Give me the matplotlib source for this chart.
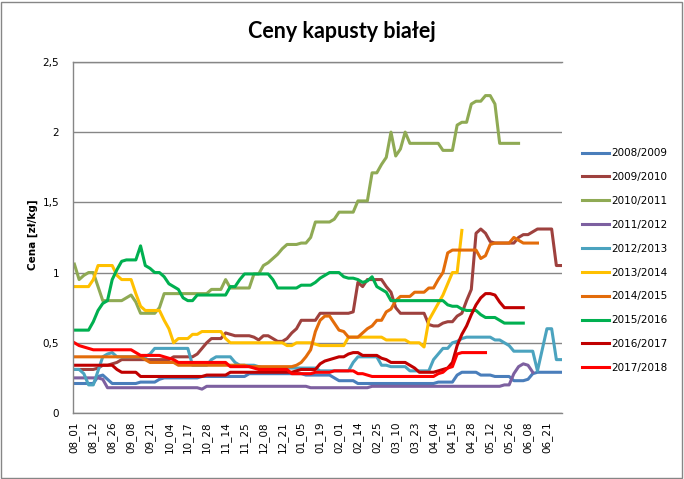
import numpy as np
import matplotlib.pyplot as plt
from matplotlib.patches import Rectangle

# etykiety osi X (co 4 punkty)
etykiety = ['08_01', '08_12', '08_26', '09_08', '09_21', '10_04', '10_17', '10_28',
            '11_14', '11_25', '12_08', '12_21', '01_05', '01_19', '02_01', '02_14',
            '02_25', '03_10', '03_23', '04_04', '04_15', '04_28', '05_12', '05_26',
            '06_08', '06_21']
n_pkt = 104

sezony = ['2008/2009', '2009/2010', '2010/2011', '2011/2012', '2012/2013',
          '2013/2014', '2014/2015', '2015/2016', '2016/2017', '2017/2018']
kolory = ['#4A7EBB', '#9E413E', '#8FAA54', '#7D60A0', '#4BA3BF',
          '#FFC000', '#E36C0A', '#00B050', '#C00000', '#FF0000']

c_0809 = [0.21, 0.21, 0.21, 0.21, 0.21, 0.26, 0.27, 0.24, 0.21, 0.21,
          0.21, 0.21, 0.21, 0.21, 0.22, 0.22, 0.22, 0.22, 0.24, 0.25,
          0.25, 0.25, 0.25, 0.25, 0.25, 0.25, 0.25, 0.26, 0.26, 0.26,
          0.26, 0.26, 0.26, 0.26, 0.26, 0.26, 0.26, 0.28, 0.28, 0.28,
          0.28, 0.28, 0.28, 0.28, 0.28, 0.28, 0.28, 0.28, 0.28, 0.27,
          0.27, 0.27, 0.27, 0.27, 0.27, 0.25, 0.23, 0.23, 0.23, 0.23,
          0.21, 0.21, 0.21, 0.21, 0.21, 0.21, 0.21, 0.21, 0.21, 0.21,
          0.21, 0.21, 0.21, 0.21, 0.21, 0.21, 0.21, 0.22, 0.22, 0.22,
          0.22, 0.27, 0.29, 0.29, 0.29, 0.29, 0.27, 0.27, 0.27, 0.26,
          0.26, 0.26, 0.26, 0.23, 0.23, 0.23, 0.24, 0.28, 0.29, 0.29,
          0.29, 0.29, 0.29, 0.29]

c_0910 = [0.31, 0.31, 0.31, 0.31, 0.31, 0.32, 0.34, 0.34, 0.35, 0.36,
          0.38, 0.38, 0.38, 0.38, 0.38, 0.38, 0.38, 0.38, 0.38, 0.38,
          0.38, 0.40, 0.40, 0.40, 0.40, 0.40, 0.42, 0.46, 0.50, 0.53,
          0.53, 0.53, 0.57, 0.56, 0.55, 0.55, 0.55, 0.55, 0.54, 0.52,
          0.55, 0.55, 0.53, 0.51, 0.51, 0.53, 0.57, 0.60, 0.66, 0.66,
          0.66, 0.66, 0.71, 0.71, 0.71, 0.71, 0.71, 0.71, 0.71, 0.72,
          0.93, 0.90, 0.95, 0.95, 0.95, 0.95, 0.90, 0.86, 0.75, 0.71,
          0.71, 0.71, 0.71, 0.71, 0.71, 0.63, 0.62, 0.62, 0.64, 0.65,
          0.65, 0.69, 0.71, 0.80, 0.88, 1.28, 1.31, 1.28, 1.22, 1.21,
          1.21, 1.21, 1.21, 1.21, 1.25, 1.27, 1.27, 1.29, 1.31, 1.31,
          1.31, 1.31, 1.05, 1.05]

c_1011 = [1.06, 0.95, 0.98, 1.00, 1.00, 0.90, 0.80, 0.80, 0.80, 0.80,
          0.80, 0.82, 0.84, 0.79, 0.71, 0.71, 0.71, 0.71, 0.75, 0.85,
          0.85, 0.85, 0.85, 0.85, 0.85, 0.85, 0.85, 0.85, 0.85, 0.88,
          0.88, 0.88, 0.95, 0.89, 0.89, 0.89, 0.89, 0.89, 0.99, 0.99,
          1.05, 1.07, 1.10, 1.13, 1.17, 1.20, 1.20, 1.20, 1.21, 1.21,
          1.25, 1.36, 1.36, 1.36, 1.36, 1.38, 1.43, 1.43, 1.43, 1.43,
          1.51, 1.51, 1.51, 1.71, 1.71, 1.77, 1.82, 2.00, 1.83, 1.88,
          2.00, 1.92, 1.92, 1.92, 1.92, 1.92, 1.92, 1.92, 1.87, 1.87,
          1.87, 2.05, 2.07, 2.07, 2.20, 2.22, 2.22, 2.26, 2.26, 2.20,
          1.92, 1.92, 1.92, 1.92, 1.92]

c_1112 = [0.25, 0.25, 0.25, 0.25, 0.25, 0.25, 0.24, 0.18, 0.18, 0.18,
          0.18, 0.18, 0.18, 0.18, 0.18, 0.18, 0.18, 0.18, 0.18, 0.18,
          0.18, 0.18, 0.18, 0.18, 0.18, 0.18, 0.18, 0.17, 0.19, 0.19,
          0.19, 0.19, 0.19, 0.19, 0.19, 0.19, 0.19, 0.19, 0.19, 0.19,
          0.19, 0.19, 0.19, 0.19, 0.19, 0.19, 0.19, 0.19, 0.19, 0.19,
          0.18, 0.18, 0.18, 0.18, 0.18, 0.18, 0.18, 0.18, 0.18, 0.18,
          0.18, 0.18, 0.18, 0.19, 0.19, 0.19, 0.19, 0.19, 0.19, 0.19,
          0.19, 0.19, 0.19, 0.19, 0.19, 0.19, 0.19, 0.19, 0.19, 0.19,
          0.19, 0.19, 0.19, 0.19, 0.19, 0.19, 0.19, 0.19, 0.19, 0.19,
          0.19, 0.20, 0.20, 0.28, 0.33, 0.35, 0.34, 0.29]

c_1213 = [0.31, 0.31, 0.28, 0.20, 0.20, 0.30, 0.40, 0.42, 0.43, 0.40,
          0.40, 0.40, 0.40, 0.40, 0.40, 0.40, 0.42, 0.46, 0.46, 0.46,
          0.46, 0.46, 0.46, 0.46, 0.46, 0.34, 0.34, 0.34, 0.34, 0.38,
          0.40, 0.40, 0.40, 0.40, 0.36, 0.34, 0.34, 0.34, 0.34, 0.33,
          0.32, 0.32, 0.32, 0.32, 0.32, 0.32, 0.32, 0.32, 0.32, 0.32,
          0.32, 0.32, 0.30, 0.30, 0.30, 0.30, 0.30, 0.30, 0.30, 0.36,
          0.40, 0.40, 0.40, 0.40, 0.40, 0.34, 0.34, 0.33, 0.33, 0.33,
          0.33, 0.30, 0.30, 0.30, 0.30, 0.30, 0.38, 0.42, 0.46, 0.46,
          0.50, 0.51, 0.53, 0.54, 0.54, 0.54, 0.54, 0.54, 0.54, 0.52,
          0.52, 0.50, 0.48, 0.44, 0.44, 0.44, 0.44, 0.44, 0.30, 0.45,
          0.60, 0.60, 0.38, 0.38]

c_1314 = [0.90, 0.90, 0.90, 0.90, 0.95, 1.05, 1.05, 1.05, 1.05, 0.98,
          0.95, 0.95, 0.95, 0.85, 0.76, 0.73, 0.73, 0.73, 0.73, 0.66,
          0.60, 0.50, 0.53, 0.53, 0.53, 0.56, 0.56, 0.58, 0.58, 0.58,
          0.58, 0.58, 0.53, 0.50, 0.50, 0.50, 0.50, 0.50, 0.50, 0.50,
          0.50, 0.50, 0.50, 0.50, 0.50, 0.48, 0.48, 0.50, 0.50, 0.50,
          0.50, 0.49, 0.48, 0.48, 0.48, 0.48, 0.48, 0.48, 0.54, 0.54,
          0.54, 0.54, 0.54, 0.54, 0.54, 0.54, 0.52, 0.52, 0.52, 0.52,
          0.52, 0.50, 0.50, 0.50, 0.47, 0.66, 0.72, 0.78, 0.84, 0.92,
          1.00, 1.00, 1.30]

c_1415 = [0.40, 0.40, 0.40, 0.40, 0.40, 0.40, 0.40, 0.40, 0.40, 0.40,
          0.40, 0.40, 0.40, 0.40, 0.40, 0.38, 0.36, 0.36, 0.36, 0.36,
          0.36, 0.36, 0.34, 0.34, 0.34, 0.34, 0.34, 0.34, 0.34, 0.34,
          0.34, 0.34, 0.34, 0.34, 0.34, 0.34, 0.34, 0.33, 0.33, 0.33,
          0.33, 0.33, 0.33, 0.33, 0.33, 0.33, 0.33, 0.34, 0.36, 0.40,
          0.45, 0.58, 0.66, 0.69, 0.69, 0.64, 0.59, 0.58, 0.54, 0.54,
          0.54, 0.57, 0.60, 0.62, 0.66, 0.66, 0.72, 0.74, 0.80, 0.83,
          0.83, 0.83, 0.86, 0.86, 0.86, 0.89, 0.89, 0.95, 1.00, 1.14,
          1.16, 1.16, 1.16, 1.16, 1.16, 1.16, 1.10, 1.12, 1.20, 1.21,
          1.21, 1.21, 1.21, 1.25, 1.23, 1.21, 1.21, 1.21, 1.21]

c_1516 = [0.59, 0.59, 0.59, 0.59, 0.65, 0.73, 0.78, 0.80, 0.95, 1.02,
          1.08, 1.09, 1.09, 1.09, 1.19, 1.05, 1.03, 1.00, 1.00, 0.97,
          0.92, 0.90, 0.88, 0.82, 0.80, 0.80, 0.84, 0.84, 0.84, 0.84,
          0.84, 0.84, 0.84, 0.90, 0.90, 0.95, 0.99, 0.99, 0.99, 0.99,
          0.99, 0.99, 0.95, 0.89, 0.89, 0.89, 0.89, 0.89, 0.91, 0.91,
          0.91, 0.93, 0.96, 0.98, 1.00, 1.00, 1.00, 0.97, 0.96, 0.96,
          0.95, 0.93, 0.94, 0.97, 0.90, 0.88, 0.86, 0.80, 0.80, 0.80,
          0.80, 0.80, 0.80, 0.80, 0.80, 0.80, 0.80, 0.80, 0.80, 0.77,
          0.76, 0.76, 0.74, 0.73, 0.73, 0.73, 0.70, 0.68, 0.68, 0.68,
          0.66, 0.64, 0.64, 0.64, 0.64, 0.64]

c_1617 = [0.34, 0.34, 0.34, 0.34, 0.34, 0.34, 0.34, 0.34, 0.34, 0.31,
          0.29, 0.29, 0.29, 0.29, 0.26, 0.26, 0.26, 0.26, 0.26, 0.26,
          0.26, 0.26, 0.26, 0.26, 0.26, 0.26, 0.26, 0.26, 0.27, 0.27,
          0.27, 0.27, 0.27, 0.29, 0.29, 0.29, 0.29, 0.29, 0.29, 0.29,
          0.29, 0.29, 0.29, 0.29, 0.29, 0.29, 0.29, 0.30, 0.31, 0.31,
          0.31, 0.31, 0.35, 0.37, 0.38, 0.39, 0.40, 0.40, 0.42, 0.43,
          0.43, 0.41, 0.41, 0.41, 0.41, 0.39, 0.38, 0.36, 0.36, 0.36,
          0.36, 0.34, 0.32, 0.29, 0.29, 0.29, 0.29, 0.30, 0.31, 0.32,
          0.36, 0.48, 0.56, 0.62, 0.70, 0.77, 0.82, 0.85, 0.85, 0.84,
          0.79, 0.75, 0.75, 0.75, 0.75, 0.75]

c_1718 = [0.50, 0.48, 0.47, 0.46, 0.45, 0.45, 0.45, 0.45, 0.45, 0.45,
          0.45, 0.45, 0.45, 0.43, 0.41, 0.41, 0.41, 0.41, 0.41, 0.40,
          0.39, 0.38, 0.36, 0.36, 0.36, 0.36, 0.36, 0.36, 0.36, 0.36,
          0.36, 0.36, 0.36, 0.33, 0.33, 0.33, 0.33, 0.33, 0.32, 0.31,
          0.31, 0.31, 0.31, 0.31, 0.31, 0.31, 0.28, 0.28, 0.28, 0.28,
          0.28, 0.29, 0.29, 0.29, 0.29, 0.30, 0.30, 0.30, 0.30, 0.30,
          0.28, 0.28, 0.27, 0.26, 0.26, 0.26, 0.26, 0.26, 0.26, 0.26,
          0.26, 0.26, 0.26, 0.26, 0.26, 0.26, 0.26, 0.28, 0.29, 0.32,
          0.33, 0.42, 0.43, 0.43, 0.43, 0.43, 0.43, 0.43]

ceny = [c_0809, c_0910, c_1011, c_1112, c_1213,
        c_1314, c_1415, c_1516, c_1617, c_1718]

fig = plt.figure(figsize=(6.84, 4.79), dpi=100)
ax = fig.add_axes([0.1067, 0.1378, 0.715, 0.733])

x = np.arange(n_pkt)
for sezon, kolor, wart in zip(sezony, kolory, ceny):
    y = np.full(n_pkt, np.nan)
    y[:len(wart)] = wart
    ax.plot(x, y, color=kolor, lw=2.2, label=sezon, solid_joinstyle='round')

ax.set_xlim(-0.3, 103.2)
ax.set_ylim(0, 2.5)
ax.set_yticks([0, 0.5, 1, 1.5, 2, 2.5])
ax.set_yticklabels(['0', '0,5', '1', '1,5', '2', '2,5'], fontsize=7.5)
ax.set_xticks(np.arange(0, n_pkt, 4))
ax.set_xticklabels(etykiety, rotation=90, fontsize=7.5)
ax.tick_params(length=0)
ax.tick_params(axis='y', pad=10)
ax.tick_params(axis='x', pad=6)

ax.yaxis.grid(True, color='#868686', lw=1)
ax.set_axisbelow(True)
ax.spines['right'].set_visible(False)
for s in ['left', 'bottom', 'top']:
    ax.spines[s].set_color('#868686')
    ax.spines[s].set_linewidth(1)

fig.text(0.5, 0.935, 'Ceny kapusty białej', fontsize=15.5, fontweight='bold',
         family='Lato', ha='center', va='center')
fig.text(0.048, 0.51, 'Cena [zł/kg]', rotation=90, fontsize=7.5, fontweight='bold',
         ha='center', va='center')

ax.legend(loc='center left', bbox_to_anchor=(0.851, 0.456), bbox_transform=fig.transFigure,
          frameon=False, fontsize=7.5, labelspacing=1.33, handlelength=2.6,
          handletextpad=0.2, borderaxespad=0, borderpad=0)

fig.patches.append(Rectangle((0.002, 0.003), 0.995, 0.993, transform=fig.transFigure,
                             fill=False, edgecolor='#868686', lw=1))

fig.savefig('out.png', dpi=100)
